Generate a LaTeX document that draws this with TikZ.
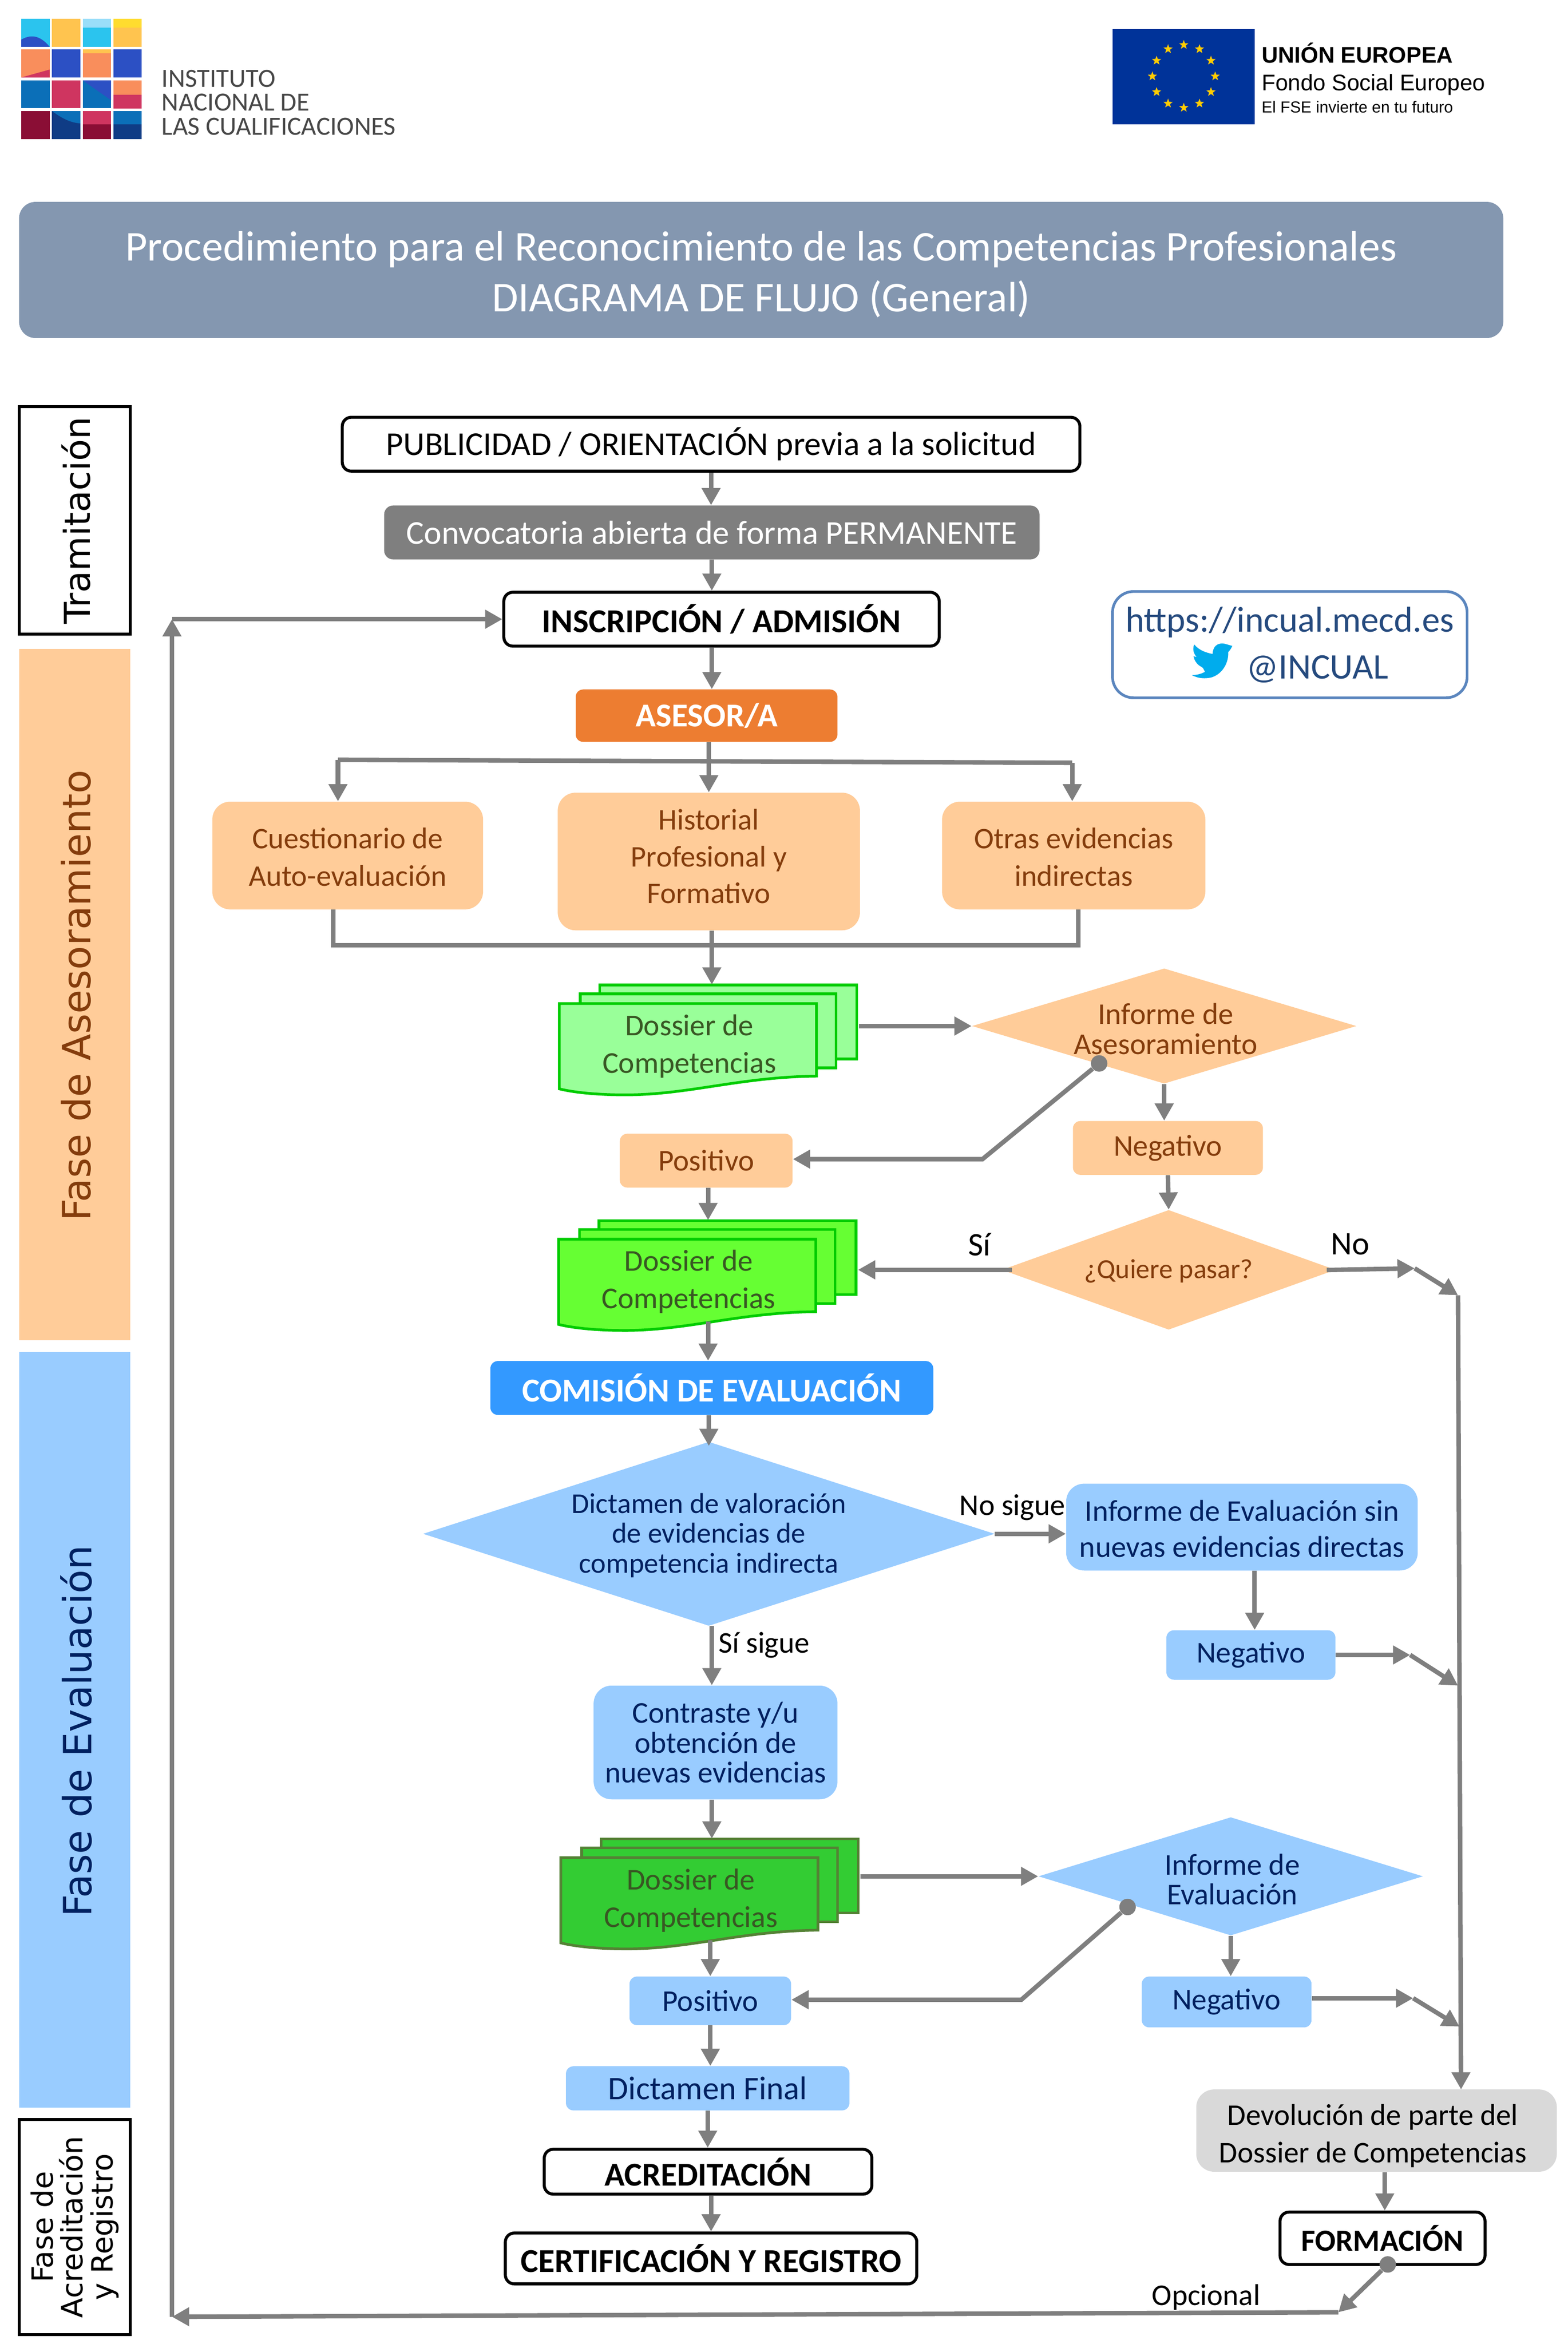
\documentclass[tikz,border=0pt]{standalone}
\usepackage{fontspec}
\setmainfont{Carlito}
\newfontfamily\phasefont{DejaVu Sans}
\newfontfamily\eufont{Liberation Sans}
\usetikzlibrary{arrows.meta,shapes.geometric,calc}
\definecolor{grayc}{HTML}{7F7F7F}
\definecolor{orangefill}{HTML}{FFCC99}
\definecolor{bluefill}{HTML}{99CCFF}
\definecolor{browntxt}{HTML}{843C0C}
\definecolor{navytxt}{HTML}{002060}
\definecolor{greentxt}{HTML}{385723}
\definecolor{titlec}{HTML}{8497B0}
\definecolor{linkc}{HTML}{5B86BE}
\definecolor{linktxt}{HTML}{254A7E}
\definecolor{lcyan}{HTML}{2BC4EE}
\definecolor{lyel}{HTML}{FFC44F}
\definecolor{lblue}{HTML}{2C50C4}
\definecolor{lorg}{HTML}{F98E5C}
\definecolor{lsea}{HTML}{0B6FB8}
\definecolor{lcrim}{HTML}{CF3560}
\definecolor{lmar}{HTML}{8A0E35}
\definecolor{lnavy}{HTML}{0F3C85}
\tikzset{
  arr/.style={draw=grayc,line width=3pt,-{Triangle[length=11.5pt,width=12pt]}},
  conn/.style={draw=grayc,line width=3pt},
  dotn/.style={circle,fill=grayc,inner sep=0pt,minimum size=11pt},
  base/.style={inner sep=0pt,align=center,font=\fontsize{20.2}{25}\selectfont},
  blackbox/.style={base,draw=black,line width=2pt,fill=white,rounded corners=6pt,text=black,font=\fontsize{22.3}{26}\selectfont},
  orangebox/.style={base,fill=orangefill,rounded corners=12pt,text=browntxt},
  orangesmall/.style={base,fill=orangefill,rounded corners=5pt,text=browntxt},
  bluebox/.style={base,fill=bluefill,rounded corners=12pt,text=navytxt},
  bluesmall/.style={base,fill=bluefill,rounded corners=5pt,text=navytxt},
  lab/.style={inner sep=0pt,font=\fontsize{20.1}{25}\selectfont,text=black},
  dia/.style={diamond,inner sep=0pt,shape aspect=1},
  phase/.style={inner sep=0pt,align=center,rotate=90,font=\phasefont\fontsize{26}{28}\selectfont}
}
% name x1 y1 x2 y2 style text
\newcommand\bxn[7]{\node[#6,minimum width={(#4-#2)*1pt},minimum height={(#5-#3)*1pt}] (#1) at ({(#2+#4)/2},{(#3+#5)/2}) {#7};}
% name cx cy w h fill textstyle text
\newcommand\dian[8]{\node[dia,fill=#6,minimum width={#4*1pt},minimum height={#5*1pt},label={[inner sep=0pt,align=center,#7]center:#8}] (#1) at (#2,#3) {};}
% name x0 y0 fill stroke textcolor
\newcommand\dossiern[6]{%
\begin{scope}[shift={(#2,#3)}]
\filldraw[fill=#4,draw=#5,line width=1.8pt] (27,-12.5) rectangle (199,37);
\filldraw[fill=#4,draw=#5,line width=1.8pt] (14,-6.5) rectangle (185,43);
\filldraw[fill=#4,draw=#5,line width=1.8pt] (0,0) -- (172,0) -- (172,48.5) .. controls (120,49) and (85,61.5) .. (42,61) .. controls (30,61) and (12,60) .. (0,57) -- cycle;
\node[base,text=#6] (#1) at (87,28.5) {Dossier de\\Competencias};
\node[inner sep=0pt,minimum width=200pt,minimum height=73.5pt] (#1b) at (100,24.25) {};
\end{scope}}
\newcommand\cell[4]{\fill[#4] ({14.2+20.55*#1},{12.6+20.55*#2}) rectangle ++(19,18.7);}
\newcommand\rs[2]{\raisebox{-#1pt}{#2}}
\begin{document}
\begin{tikzpicture}[x=.9995pt,y=-.9995pt]
\useasboundingbox (0,0) rectangle (1048.52,1567.2);
% ---- logo
\foreach \c/\r/\k in {0/0/lcyan,1/0/lyel,2/0/lcyan,3/0/lyel,0/1/lorg,1/1/lblue,2/1/lorg,3/1/lblue,0/2/lsea,1/2/lcrim,2/2/lblue,3/2/lorg,0/3/lmar,1/3/lnavy,2/3/lcrim,3/3/lsea}{\cell{\c}{\r}{}{\k}}
\fill[lblue] (14.2,26.5) .. controls (22,22) and (28,25) .. (33.2,31.3) -- (14.2,31.3) -- cycle;
\fill[lyel!60!yellow] (75.85,12.6) rectangle ++(19,6);
\fill[cyan!40!white] (55.3,12.6) rectangle ++(19,6);
\fill[lyel] (55.3,33.15) rectangle ++(19,2.5);
\fill[lcrim] (14.2,51.8) -- (33.2,46.5) -- (33.2,51.8) -- cycle;
\fill[lcrim] (75.85,63.5) rectangle ++(19,9);
\fill[lsea] (55.3,53.7) rectangle ++(19,18.7);
\fill[lblue] (55.3,53.7) -- (74.3,53.7) -- (74.3,67) -- cycle;
\fill[lsea] (34.75,74.25) -- (53.75,74.25) -- (53.75,82.5) .. controls (46,82) and (40,78) .. (34.75,74.25) -- cycle;
\fill[lmar] (55.3,83) rectangle ++(19,10);
\fill[lnavy] (75.85,83) rectangle ++(19,10);
\node[anchor=west,inner sep=0pt,align=left,text=black!72,font=\fontsize{17.5}{16}\selectfont] (logotext) at (108,68.5) {INSTITUTO\\NACIONAL DE\\LAS CUALIFICACIONES};
% ---- EU
\fill[fill={rgb,255:red,0;green,51;blue,153}] (744,19.5) rectangle (839,83);
\foreach \a in {0,30,...,330}{\node[star,star points=5,star point ratio=2.4,fill={rgb,255:red,255;green,204;blue,0},inner sep=0pt,minimum size=6.5pt] at ({791.6+21*cos(\a)},{51+21*sin(\a)}) {};}
\node[anchor=west,inner sep=0pt,font=\eufont\bfseries\fontsize{15.15}{18}\selectfont] (eu1) at (843.5,35.5) {UNIÓN EUROPEA};
\node[anchor=west,inner sep=0pt,font=\eufont\fontsize{15.1}{18}\selectfont] (eu2) at (843.5,56.5) {Fondo Social Europeo};
\node[anchor=west,inner sep=0pt,font=\eufont\fontsize{10.7}{12}\selectfont] (eu3) at (843.5,71.5) {El FSE invierte en tu futuro};
% ---- title
\bxn{title}{13}{135}{1005}{226}{inner sep=0pt,fill=titlec,rounded corners=11pt}{}
\node[inner sep=0pt,align=center,text=white,font=\fontsize{28.4}{34}\selectfont] (titlet) at (509,183.5) {Procedimiento para el Reconocimiento de las Competencias Profesionales\\DIAGRAMA DE FLUJO (General)};
% ---- phases
\node[draw=black,line width=2pt,fill=white,minimum width=74pt,minimum height=152pt,inner sep=0pt] (ph1) at (50,348) {};
\node[phase,text=black,font=\phasefont\fontsize{23.8}{27}\selectfont] (ph1t) at (51,348) {Tramitación};
\fill[orangefill] (13,434) rectangle (87,896);
\node[phase,text=browntxt] (ph2t) at (51,665.5) {Fase de Asesoramiento};
\fill[bluefill] (13,904) rectangle (87,1409);
\node[phase,text=navytxt] (ph3t) at (51,1157.5) {Fase de Evaluación};
\node[draw=black,line width=2pt,fill=white,minimum width=74pt,minimum height=144pt,inner sep=0pt] (ph4) at (50,1489) {};
\node[phase,text=black,font=\phasefont\fontsize{19.6}{20}\selectfont] (ph4t) at (ph4) {Fase de\\Acreditación\\y Registro};
% ---- nodes
\bxn{pub}{229}{279}{722}{315}{blackbox}{\rs{1}{PUBLICIDAD / ORIENTACIÓN previa a la solicitud}}
\bxn{conv}{257}{338}{695}{374}{base,fill=grayc,rounded corners=6pt,text=white,font=\fontsize{22.3}{26}\selectfont}{\rs{1.5}{Convocatoria abierta de forma PERMANENTE}}
\bxn{insc}{337}{396}{628}{432}{blackbox,font=\bfseries\fontsize{22.3}{26}\selectfont}{INSCRIPCIÓN / ADMISIÓN}
\bxn{asesor}{385}{461}{560}{496}{base,fill={rgb,255:red,237;green,125;blue,49},rounded corners=5pt,text=white,font=\bfseries\fontsize{22.3}{26}\selectfont}{\rs{1.5}{ASESOR/A}}
\bxn{link}{744}{395.5}{981}{466.5}{base,draw=linkc,line width=1.8pt,fill=white,rounded corners=14pt,text=linktxt}{}
\node[inner sep=0pt,text=linktxt,font=\fontsize{24}{28}\selectfont] (url) at (862.5,416) {https://incual.mecd.es};
\node[inner sep=0pt,text=linktxt,font=\fontsize{24}{28}\selectfont] (twit) at (881,447.5) {@INCUAL};
\begin{scope}[shift={(735.86,389)},x=.1588pt,y=-.1103pt]
\fill[fill={rgb,255:red,0;green,172;blue,237}] (555,388) .. controls (545,385) and (540,382) .. (530,378) .. controls (510,368) and (475,370) .. (472,437) .. controls (445,430) and (415,415) .. (395,380) .. controls (385,410) and (395,440) .. (405,455) .. controls (400,455) and (395,452) .. (392,450) .. controls (395,480) and (410,505) .. (425,515) .. controls (435,525) and (430,520) .. (440,545) .. controls (425,558) and (405,565) .. (385,565) .. controls (410,585) and (440,590) .. (470,578) .. controls (515,555) and (540,490) .. (538,425) .. controls (545,415) and (550,405) .. (555,388) -- cycle;
\end{scope}
\bxn{cues}{142}{536}{323}{608}{orangebox}{}
\node[base,text=browntxt,font=\fontsize{20}{25}\selectfont] (cuest) at (232.5,573) {Cuestionario de\\Auto-evaluación};
\bxn{hist}{373}{530}{575}{622}{orangebox}{}
\node[base,text=browntxt,font=\fontsize{20}{24.5}\selectfont] (histt) at (474,572.5) {Historial\\Profesional y\\Formativo};
\bxn{otras}{630}{536}{806}{608}{orangebox}{}
\node[base,text=browntxt,font=\fontsize{20}{25}\selectfont] (otrast) at (718,573) {Otras evidencias\\indirectas};
\dossiern{dos1}{374}{671}{{rgb,255:red,153;green,255;blue,153}}{{rgb,255:red,0;green,204;blue,0}}{greentxt}
\dian{inf1}{778.5}{686}{257}{77}{orangefill}{xshift=1pt,yshift=-2pt,text=browntxt,font=\fontsize{20.2}{20}\selectfont}{Informe de\\Asesoramiento}
\node[dotn] (dot1) at (735,711) {};
\bxn{pos1}{414.5}{758}{530}{794}{orangesmall}{Positivo}
\bxn{neg1}{717.5}{749.5}{844.5}{785.5}{orangesmall}{\rs{2}{Negativo}}
\dian{q1}{781.5}{849}{223}{80}{orangefill}{yshift=-1pt,text=browntxt,font=\fontsize{18.4}{20}\selectfont}{¿Quiere pasar?}
\dossiern{dos2}{373.5}{828.5}{{rgb,255:red,102;green,255;blue,51}}{{rgb,255:red,0;green,204;blue,0}}{greentxt}
\bxn{com}{328}{910}{624}{946}{base,fill={rgb,255:red,51;green,153;blue,255},rounded corners=5pt,text=white,font=\bfseries\fontsize{22.3}{26}\selectfont}{COMISIÓN DE EVALUACIÓN}
\dian{dict}{474}{1025.5}{382}{123}{bluefill}{yshift=-1pt,text=navytxt,font=\fontsize{19.2}{20}\selectfont}{Dictamen de valoración\\de evidencias de\\competencia indirecta}
\bxn{ie}{713}{992}{948}{1050}{bluebox}{}
\node[base,text=navytxt,font=\fontsize{20.2}{24}\selectfont] (iet) at (830.5,1022) {Informe de Evaluación sin\\nuevas evidencias directas};
\bxn{neg2}{780}{1090}{893}{1123}{bluesmall}{\rs{2.5}{Negativo}}
\bxn{con}{397}{1127}{560}{1203}{bluebox}{}
\node[base,text=navytxt,font=\fontsize{20.2}{20}\selectfont] (cont) at (478.5,1165) {Contraste y/u\\obtención de\\nuevas evidencias};
\dossiern{dos3}{375}{1242}{{rgb,255:red,51;green,204;blue,51}}{{rgb,255:red,84;green,130;blue,53}}{greentxt}
\dian{inf2}{823}{1254.5}{257}{79}{bluefill}{xshift=1pt,yshift=-2pt,text=navytxt,font=\fontsize{20.2}{20}\selectfont}{Informe de\\Evaluación}
\node[dotn] (dot2) at (754,1275) {};
\bxn{pos2}{421}{1321.5}{529}{1354}{bluesmall}{Positivo}
\bxn{neg3}{763.5}{1321.5}{877}{1355.5}{bluesmall}{\rs{2.5}{Negativo}}
\bxn{dfin}{378.5}{1381.5}{568}{1411}{bluesmall,font=\fontsize{22}{26}\selectfont}{\rs{1}{Dictamen Final}}
\bxn{acr}{364}{1437}{583}{1467}{blackbox,font=\bfseries\fontsize{22.3}{26}\selectfont}{ACREDITACIÓN}
\bxn{cert}{338}{1493}{613}{1527}{blackbox,font=\bfseries\fontsize{22.3}{26}\selectfont}{CERTIFICACIÓN Y REGISTRO}
\bxn{dev}{800}{1397}{1041}{1452}{base,fill={rgb,255:red,217;green,217;blue,217},rounded corners=12pt}{}
\node[base,text=black,font=\fontsize{20.1}{25}\selectfont] (devt) at (918,1428) {Devolución de parte del\\Dossier de Competencias};
\bxn{form}{856}{1479}{993}{1514}{blackbox,font=\bfseries\fontsize{20.5}{26}\selectfont}{FORMACIÓN}
\node[dotn] (dot3) at (928,1514) {};
% ---- labels
\node[lab,font=\fontsize{22}{25}\selectfont] (lsi) at (655,832) {Sí};
\node[lab,font=\fontsize{22}{25}\selectfont] (lno) at (903,832) {No};
\node[lab] (lnosigue) at (677,1008) {No sigue};
\node[lab] (lsisigue) at (511,1100) {Sí sigue};
\node[lab] (lopc) at (806.5,1536) {Opcional};
% ---- free points
\coordinate (barL) at (226,508);
\coordinate (barR) at (717,510);
\coordinate (botL) at (223,632);
\coordinate (botR) at (721,632);
\coordinate (bend1) at (657,775);
\coordinate (bend2) at (683,1337);
\coordinate (noA) at (946,848);
\coordinate (noB) at (975,866);
\coordinate (noC) at (977,1397);
\coordinate (neg2A) at (943,1106.5);
\coordinate (neg2B) at (975,1127);
\coordinate (neg3A) at (945,1336);
\coordinate (neg3B) at (976,1355);
\coordinate (retA) at (895,1546);
\coordinate (retB) at (115,1549);
\coordinate (retC) at (115,414);
% ---- connectors
\draw[arr] (pub.south) -- (pub.south |- conv.north);
\draw[arr] (conv.south) -- (conv.south |- insc.north);
\draw[arr] (insc.south -| conv) -- (asesor.north -| conv);
\draw[arr] (asesor.south -| hist) -- (hist.north);
\draw[conn] (barL) -- (barR);
\draw[arr] (barL) -- (barL |- cues.north);
\draw[arr] (barR) -- (barR |- otras.north);
\draw[conn] (botL |- cues.south) -- (botL) -- (botR) -- (botR |- otras.south);
\draw[arr] (hist.south -| conv) -- (dos1b.north -| conv);
\draw[arr] (dos1b.east |- inf1) -- (inf1.west);
\draw[arr] (dot1) -- (bend1) -- (pos1.east |- bend1);
\draw[arr] (inf1.south) -- (inf1.south |- neg1.north);
\draw[arr] (neg1.south) -- (q1.north);
\draw[arr] (pos1.south -| dos2b) -- (dos2b.north);
\draw[arr,shorten <=-7pt] (q1.west) -- (q1.west -| dos2b.east);
\draw[arr,shorten <=-6pt] (q1.east) -- (noA);
\draw[arr] (noA) -- (noB);
\draw[arr] (noB) -- (noC);
\draw[arr,shorten <=-6pt] (dos2b.south) -- (dos2b.south |- com.north);
\draw[arr,shorten >=-3pt] (com.south -| dict) -- (dict.north);
\draw[arr] (dict.east) -- (dict.east -| ie.west);
\draw[arr] ([xshift=2.5pt]neg2.north |- ie.south) -- ([xshift=2.5pt]neg2.north);
\draw[arr] (neg2.east) -- (neg2A);
\draw[arr] (neg2A) -- (neg2B);
\draw[arr] (dict.south -| conv) -- (con.north -| conv);
\draw[arr] (con.south -| conv) -- (dos3b.north -| conv);
\draw[arr] (dos3b.east |- inf2) -- (inf2.west);
\draw[arr] (dot2) -- (bend2) -- (pos2.east |- bend2);
\draw[arr,shorten <=-6pt] (dos3b.south) -- (dos3b.south |- pos2.north);
\draw[arr] (inf2.south) -- (inf2.south |- neg3.north);
\draw[arr] (neg3.east |- neg3A) -- (neg3A);
\draw[arr] (neg3A) -- (neg3B);
\draw[arr] (pos2.south) -- (pos2.south |- dfin.north);
\draw[arr] (dfin.south) -- (dfin.south |- acr.north);
\draw[arr] (acr.south -| cert) -- (cert.north);
\draw[arr] ([xshift=1.5pt]form.north |- dev.south) -- ([xshift=1.5pt]form.north);
\draw[arr] (dot3) -- (retA);
\draw[arr] (retA) -- (retB);
\draw[arr] (retB) -- (retC);
\draw[arr] (retC) -- (insc.west);
\end{tikzpicture}
\end{document}
